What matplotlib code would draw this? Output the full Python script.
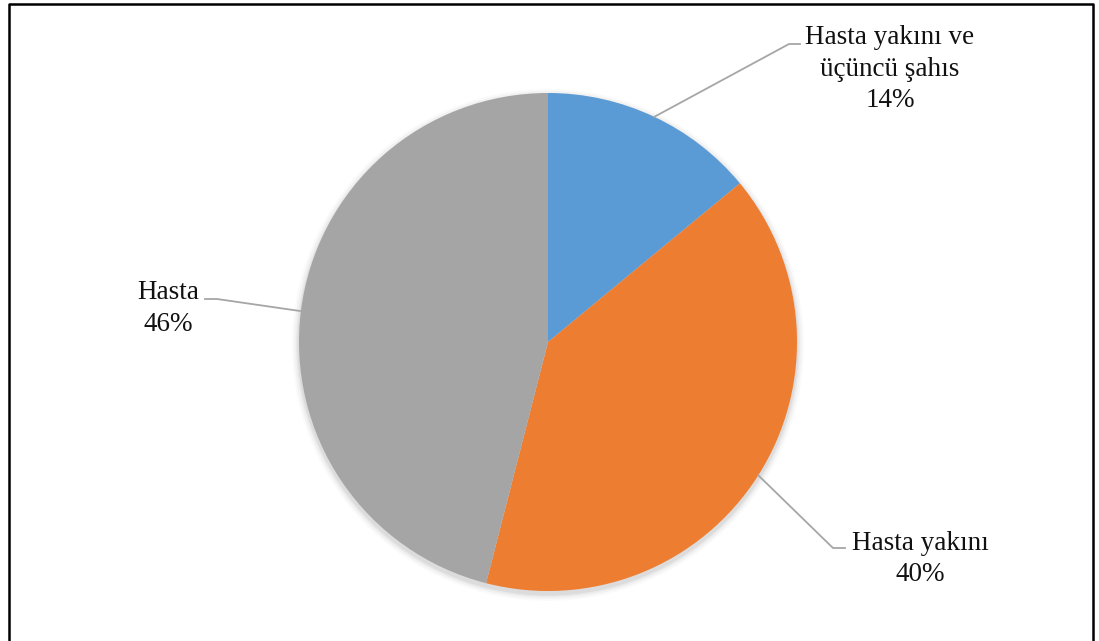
import matplotlib
matplotlib.use("Agg")
import matplotlib.pyplot as plt
from matplotlib.lines import Line2D

labels = ["Hasta yakını ve\nüçüncü şahıs", "Hasta yakını", "Hasta"]
values = [14, 40, 46]
colors = ["#5B9BD5", "#ED7D31", "#A5A5A5"]

W, H = 1099, 641
fig = plt.figure(figsize=(W / 100, H / 100), dpi=100)
ax = fig.add_axes([0, 0, 1, 1])

cx, cy, r = 548, H - 342, 249

# soft shadow
for dr, a in [(7, 0.02), (5, 0.03), (3, 0.04), (1.5, 0.05)]:
    ax.add_patch(plt.Circle((cx, cy - 3), r + dr, color="black", alpha=a, lw=0, zorder=1))

wedges, _ = ax.pie(values, startangle=90, counterclock=False, colors=colors,
                   center=(cx, cy), radius=r, frame=True,
                   wedgeprops=dict(linewidth=0, zorder=2))
ax.set_xlim(0, W)
ax.set_ylim(0, H)
ax.axis("off")
for w in wedges:
    w.set_zorder(2)

font = dict(family="Liberation Serif", size=19.5, color="#111111",
            ha="center", va="center", linespacing=1.33)
lc = "#A6A6A6"

texts = [f"{lab}\n{v}%" for lab, v in zip(labels, values)]
ax.text(890, H - 69, texts[0], **font)
ax.text(920, H - 559, texts[1], **font)
ax.text(168, H - 308.5, texts[2], **font)

# leader lines
ax.plot([654, 789, 800], [H - 117, H - 44, H - 44], color=lc, lw=1.3, zorder=3)
ax.plot([758, 833, 845], [H - 475, H - 548, H - 548], color=lc, lw=1.3, zorder=3)
ax.plot([300, 217, 205], [H - 311, H - 299, H - 299], color=lc, lw=1.3, zorder=3)

# outer frame (left, top, right)
fig.add_artist(Line2D([8.5 / W, 8.5 / W, 1092.5 / W, 1092.5 / W],
                      [0, 1 - 3.5 / H, 1 - 3.5 / H, 0],
                      transform=fig.transFigure, color="black", lw=1.8))

fig.savefig("out.png", dpi=100)
